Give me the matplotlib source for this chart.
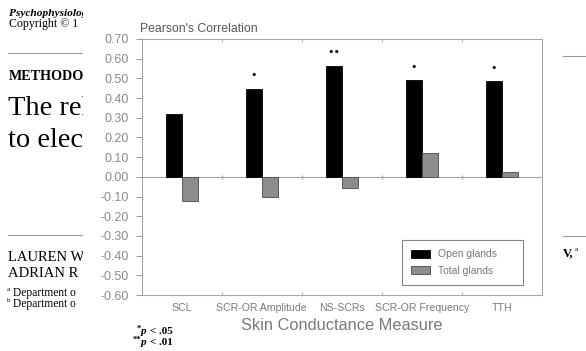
import matplotlib.pyplot as plt
import numpy as np
from matplotlib.patches import Rectangle

# values
measures = ["SCL", "SCR-OR Amplitude", "NS-SCRs", "SCR-OR Frequency", "TTH"]
open_glands = [0.32, 0.445, 0.565, 0.49, 0.485]
total_glands = [-0.125, -0.10, -0.055, 0.12, 0.025]
signif = ["", "*", "**", "*", "*"]
yticks = [0.70, 0.60, 0.50, 0.40, 0.30, 0.20, 0.10, 0.00,
          -0.10, -0.20, -0.30, -0.40, -0.50, -0.60]

W, H = 586, 351


def px(x, y):
    # pixel position (from top-left) -> figure fraction
    return x / W, 1 - y / H


fig = plt.figure(figsize=(W / 100, H / 100), dpi=100)
fig.patch.set_facecolor("white")

serif = "Liberation Serif"
sans = "Liberation Sans"

# bits of the journal page showing behind the figure
page = [
    ("Psychophysiolog", 9, 16, 8.2, "bold", "italic"),
    ("Copyright \u00a9 1", 9, 27, 8.6, "normal", "normal"),
    ("METHODO", 9, 80, 10.2, "bold", "normal"),
    ("The rel", 8, 115, 20.5, "normal", "normal"),
    ("to elec", 8, 147, 20.5, "normal", "normal"),
    ("LAUREN W", 8, 261, 10.5, "normal", "normal"),
    ("ADRIAN R", 8, 277, 10.5, "normal", "normal"),
    ("Department o", 13, 296, 8.3, "normal", "normal"),
    ("Department o", 13, 307, 8.3, "normal", "normal"),
]
for txt, x, y, size, weight, style in page:
    fig.text(*px(x, y), txt, family=serif, fontsize=size, weight=weight,
             style=style, va="baseline", ha="left", zorder=-3)
for lab, y in [("a", 291), ("b", 302)]:
    fig.text(*px(7, y), lab, family=serif, fontsize=5, va="baseline",
             zorder=-3)
fig.text(*px(563, 256), "V,", family=serif, fontsize=9, weight="bold",
         va="baseline", zorder=-3)
fig.text(*px(575, 251), "a", family=serif, fontsize=5, va="baseline",
         zorder=-3)
for x0, x1, y in [(8, 83, 52.5), (8, 83, 235), (563, 586, 56), (563, 586, 236)]:
    fig.add_artist(plt.Line2D([x0 / W, x1 / W], [1 - y / H, 1 - y / H],
                              color="#9a9a9a", lw=0.8, zorder=-3))

# white sheet of the figure pasted over the page
fig.add_artist(Rectangle(px(83, 351), (561 - 83) / W, 1, facecolor="white",
                         edgecolor="none", transform=fig.transFigure,
                         zorder=-1))

ax = fig.add_axes([141.7 / W, 1 - 295 / H, 400 / W, 256 / H])
ax.set_facecolor("none")

x = np.arange(len(measures))
bw = 0.2
ax.bar(x - bw / 2, open_glands, bw, color="black", edgecolor="black",
       lw=0.6, label="Open glands", zorder=3)
ax.bar(x + bw / 2, total_glands, bw, color="#8c8c8c", edgecolor="#4a4a4a",
       lw=0.6, label="Total glands", zorder=3)

for xi, v, s in zip(x, open_glands, signif):
    if s:
        ax.text(xi - bw / 2, v + 0.07, "\u2022" * len(s), ha="center",
                va="center", fontsize=8, color="black")

ax.axhline(0, color="#a8a8a8", lw=0.8, zorder=1)
bounds = x[:-1] + 0.5
ax.plot(bounds, np.zeros(len(bounds)), ls="none", marker="|", ms=3,
        color="#b0b0b0", zorder=1)

ax.set_xlim(-0.5, len(measures) - 0.5)
ax.set_ylim(-0.6, 0.7)
ax.set_yticks(yticks)
ax.set_yticklabels([f"{t:.2f}" for t in yticks])
ax.set_xticks(x)
ax.set_xticklabels(measures)
ax.set_xticks(bounds, minor=True)
ax.tick_params(axis="y", direction="out", length=4, width=0.7,
               color="#9a9a9a", labelcolor="#8a8a8a", labelsize=9, pad=5)
ax.tick_params(axis="x", which="major", length=0, labelcolor="#7a7a7a",
               labelsize=7.6, pad=6)
ax.tick_params(axis="x", which="minor", direction="in", length=2.5,
               width=0.7, color="#b0b0b0", top=True)
for lab in ax.get_xticklabels() + ax.get_yticklabels():
    lab.set_family(sans)
for sp in ax.spines.values():
    sp.set_color("#a5a5a5")
    sp.set_linewidth(0.8)

ax.set_xlabel("Skin Conductance Measure", family=sans, fontsize=11.8,
              color="#7a7a7a", labelpad=3)
fig.text(*px(140, 32), "Pearson's Correlation", family=sans, fontsize=8.8,
         color="#555555", va="baseline")

leg = ax.legend(loc="lower left", bbox_to_anchor=(0.651, 0.039, 0.302, 0.176),
                mode="expand", borderaxespad=0, fancybox=False,
                prop={"family": sans, "size": 7.5}, handlelength=1.8,
                handleheight=0.8, handletextpad=0.7, labelspacing=0.6,
                borderpad=0.9, labelcolor="#777777")
leg.get_frame().set_edgecolor("#666666")
leg.get_frame().set_linewidth(0.8)

# significance key under the figure
for stars, y in [("*", 334), ("**", 345)]:
    fig.text(*px(141, y - 3), stars, family=serif, fontsize=6, weight="bold",
             ha="right", va="baseline")
    fig.text(*px(141, y), "p", family=serif, fontsize=8, weight="bold",
             style="italic", va="baseline")
lines = ["< .05", "< .01"]
for txt, y in zip(lines, [334, 345]):
    fig.text(*px(150, y), txt, family=serif, fontsize=8, weight="bold",
             va="baseline")

fig.savefig("out.png", dpi=100)
